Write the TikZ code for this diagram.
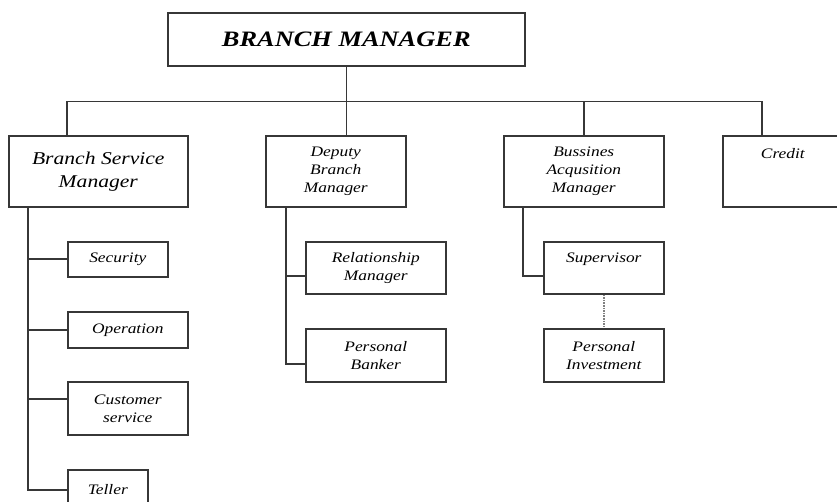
\documentclass[tikz,border=0pt]{standalone}
\usepackage{fontspec}
\setmainfont{Liberation Serif}[FakeStretch=1.2]
\usetikzlibrary{positioning}
\definecolor{linegray}{RGB}{55,55,55}

\begin{document}
\begin{tikzpicture}[x=1pt, y=-1pt,
  box/.style={draw=linegray, line width=1.6pt, align=center, inner sep=0pt, anchor=north west,
    font=\itshape\fontsize{14.5}{18}\selectfont},
  link/.style={draw=linegray, line width=1.6pt}]
  \useasboundingbox (0,0) rectangle (837,502);

  \node[box, minimum width=357, minimum height=53, font=\bfseries\itshape\fontsize{22}{26}\selectfont] (bm) at (167,12) {BRANCH MANAGER};

  \node[box, minimum width=179, minimum height=71, font=\itshape\fontsize{18}{23}\selectfont] (bsm) at (8,135) {Branch Service\\Manager};
  \node[box, minimum width=140, minimum height=71] (dbm) at (265,135) {Deputy\\Branch\\Manager};
  \node[box, minimum width=160, minimum height=71] (bam) at (503,135) {Bussines\\Acqusition\\Manager};
  \node[box, minimum width=120, text height=23, text depth=48] (credit) at (722,135) {Credit};

  \node[box, minimum width=100, minimum height=35] (security) at (67,241) {Security};
  \node[box, minimum width=120, minimum height=36] (operation) at (67,311) {Operation};
  \node[box, minimum width=120, minimum height=53] (custserv) at (67,381) {Customer\\service};
  \node[box, minimum width=80, minimum height=40] (teller) at (67,469) {Teller};

  \node[box, minimum width=140, minimum height=52] (relman) at (305,241) {Relationship\\Manager};
  \node[box, minimum width=140, minimum height=53] (persbank) at (305,328) {Personal\\Banker};

  \node[box, minimum width=120, text height=21, text depth=31] (supervisor) at (543,241) {Supervisor};
  \node[box, minimum width=120, minimum height=53] (persinv) at (543,328) {Personal\\Investment};

  % top level
  \draw[link] (bm.south) -- ++(0,35) coordinate (bus);
  \draw[link] ([xshift=59]bsm.north west) |- (bus) -| ([xshift=40]credit.north west);
  \draw[link] (bus) -- (bus |- dbm.north);
  \draw[link] (bus) -| (bam.north);

  % branch service manager
  \coordinate (bsmspine) at ([xshift=20]bsm.south west);
  \draw[link] (bsmspine) |- (teller.west);
  \foreach \n/\dy in {security/0, operation/0, custserv/9.5}
    \draw[link] (bsmspine) |- ([yshift=\dy]\n.west);

  % deputy branch manager
  \coordinate (dbmspine) at ([xshift=21]dbm.south west);
  \draw[link] (dbmspine) |- ([yshift=-8.5]persbank.west);
  \draw[link] (dbmspine) |- ([yshift=-8]relman.west);

  % bussines acqusition manager
  \draw[link] ([xshift=20]bam.south west) |- ([yshift=-8]supervisor.west);
  \draw[link, draw=gray, densely dotted] (supervisor.south) -- (persinv.north);
\end{tikzpicture}
\end{document}
